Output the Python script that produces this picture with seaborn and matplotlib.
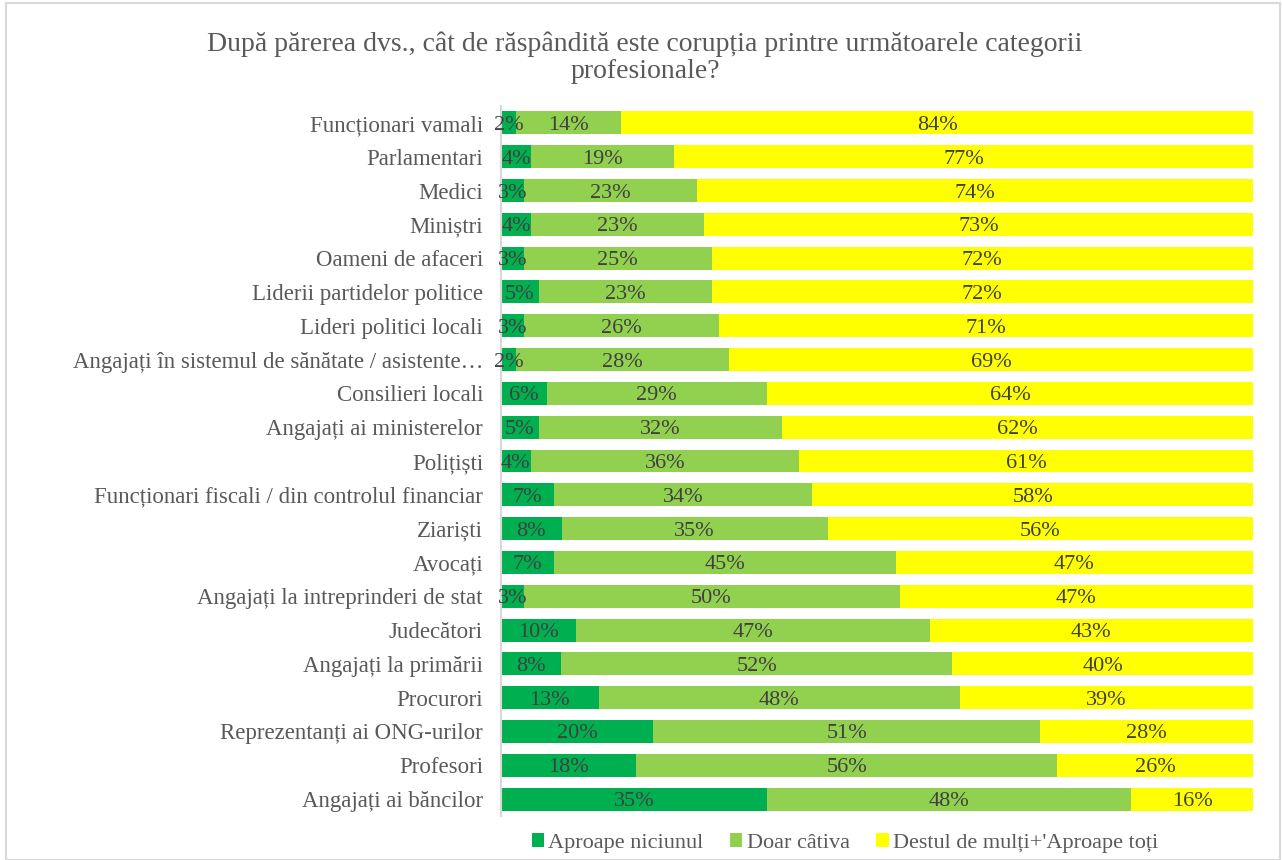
import numpy as np
import pandas as pd
import matplotlib
matplotlib.use("Agg")
import matplotlib.pyplot as plt
from matplotlib.patches import Patch, Rectangle
import seaborn as sns

categories = [
    "Funcționari vamali", "Parlamentari", "Medici", "Miniștri", "Oameni de afaceri",
    "Liderii partidelor politice", "Lideri politici locali",
    "Angajați în sistemul de sănătate / asistente…", "Consilieri locali",
    "Angajați ai ministerelor", "Polițiști", "Funcționari fiscali / din controlul financiar",
    "Ziariști", "Avocați", "Angajați la intreprinderi de stat", "Judecători",
    "Angajați la primării", "Procurori", "Reprezentanți ai ONG-urilor", "Profesori",
    "Angajați ai băncilor",
]
aproape_niciunul = [2, 4, 3, 4, 3, 5, 3, 2, 6, 5, 4, 7, 8, 7, 3, 10, 8, 13, 20, 18, 35]
doar_cativa = [14, 19, 23, 23, 25, 23, 26, 28, 29, 32, 36, 34, 35, 45, 50, 47, 52, 48, 51, 56, 48]
destul_multi = [84, 77, 74, 73, 72, 72, 71, 69, 64, 62, 61, 58, 56, 47, 47, 43, 40, 39, 28, 26, 16]
series_names = ["Aproape niciunul", "Doar câtiva", "Destul de mulți+'Aproape toți"]
colors = ["#00B050", "#92D050", "#FFFF00"]

sns.set_theme(style="white")
plt.rcParams["font.family"] = ["Liberation Serif", "DejaVu Serif"]

df = pd.DataFrame({"cat": categories, "a": aproape_niciunul, "b": doar_cativa, "c": destul_multi})
tot = df[["a", "b", "c"]].sum(axis=1)
df["na"] = df["a"] / tot
df["nb"] = df["b"] / tot
df["nc"] = df["c"] / tot
df["c1"] = df["na"]
df["c2"] = df["na"] + df["nb"]
df["c3"] = df["c2"] + df["nc"]

fig = plt.figure(figsize=(12.82, 8.60), dpi=100)
ax = fig.add_axes([501 / 1282, 1 - 816 / 860, 752 / 1282, 710 / 860])

for col, color in zip(["c3", "c2", "c1"], colors[::-1]):
    sns.barplot(data=df, x=col, y="cat", color=color, width=0.68, ax=ax,
                saturation=1, linewidth=0, orient="h")

ax.set_xlim(0, 1)
ax.set_xlabel("")
ax.set_ylabel("")
ax.set_xticks([])
for s in ["top", "right", "bottom"]:
    ax.spines[s].set_visible(False)
ax.spines["left"].set_color("#D9D9D9")
ax.spines["left"].set_linewidth(1.5)
ax.tick_params(axis="y", length=0, pad=13, labelsize=16.5, labelcolor="#595959")

txt_kw = dict(ha="center", va="center_baseline", fontsize=16, color="#404040")
for i, row in df.iterrows():
    ax.text(row["na"] / 2, i, f"{row['a']}%", **txt_kw)
    ax.text(row["c1"] + row["nb"] / 2, i, f"{row['b']}%", **txt_kw)
    ax.text(row["c2"] + row["nc"] / 2, i, f"{row['c']}%", **txt_kw)

fig.text(645 / 1282, 1 - 58 / 860,
         "După părerea dvs., cât de răspândită este corupția printre următoarele categorii\nprofesionale?",
         ha="center", va="center", fontsize=20, color="#595959", linespacing=1.1)

handles = [Patch(facecolor=c, edgecolor="none") for c in colors]
fig.legend(handles, series_names, loc="center", bbox_to_anchor=(845 / 1282, 1 - 843 / 860),
           ncol=3, frameon=False, fontsize=16, labelcolor="#595959",
           handlelength=0.55, handleheight=0.55, handletextpad=0.2, columnspacing=1.2)

fig.patches.append(Rectangle((6 / 1282, 0), 1274 / 1282, 1 - 3 / 860, transform=fig.transFigure,
                             fill=False, edgecolor="#D9D9D9", linewidth=1.5))

fig.savefig("out.png", dpi=100)
